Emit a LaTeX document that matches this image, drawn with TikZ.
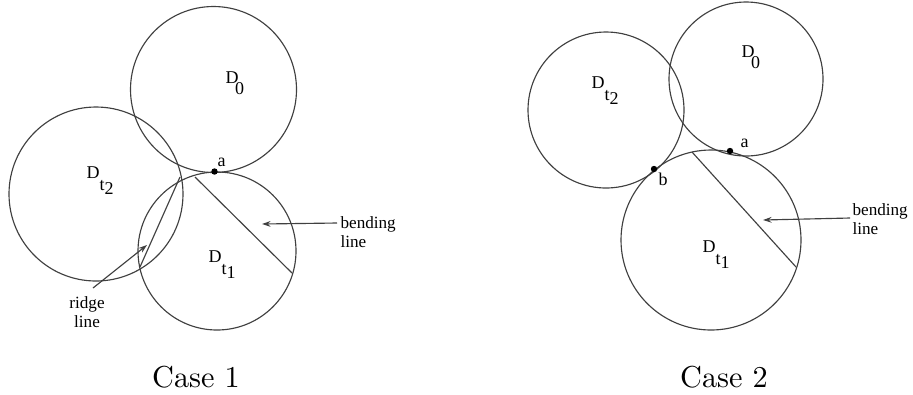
\documentclass[tikz,border=0pt]{standalone}
\usepackage{fontspec}
\newfontfamily\tms{Liberation Serif}
\usetikzlibrary{arrows.meta}
\newcommand{\Dt}[1]{D\raisebox{-4.5pt}{t\raisebox{-1.2pt}{#1}}}
\newcommand{\Dz}{D\kern-1.2pt\raisebox{-3.9pt}{0}}

\begin{document}
\begin{tikzpicture}[x=0.35pt, y=-0.35pt, line width=0.4pt,
    disc/.style = {draw=black!75},
    lbl/.style = {font=\tms\fontsize{6.3}{7}\selectfont, inner sep=0pt, anchor=base west},
    note/.style = {font=\tms\fontsize{6}{6.7}\selectfont, inner sep=0pt, anchor=north west, align=left},
    case/.style = {font=\fontsize{10.6}{12}\selectfont, inner sep=0pt, anchor=base},
    pin/.style = {draw=black!75, -{Stealth[length=3pt, width=2pt]}}]
    \useasboundingbox (0,0) rectangle (913,394);

    % Case 1
    \coordinate (o0) at (213.5,89.5);
    \coordinate (o2) at (96,194);
    \coordinate (o1) at (217,251);
    \draw[disc] (o0) circle[radius=83];
    \draw[disc] (o2) circle[radius=87];
    \draw[disc] (o1) circle[radius=79];

    \coordinate (a1) at (214.5,171.5);
    \fill (a1) circle[radius=3.2];
    \node[lbl] (la1) at (217,166) {a};

    \coordinate (bs1) at (195,177);
    \coordinate (be1) at (292,273);
    \draw[disc] (bs1) -- (be1);
    \coordinate (rs1) at (180,177);
    \coordinate (re1) at (140,267);
    \draw[disc] (rs1) -- (re1);

    \node[lbl] (d0) at (225,83) {\Dz};
    \node[lbl] (d2) at (86,178) {\Dt{2}};
    \node[lbl] (d1) at (208,262) {\Dt{1}};

    \node[note] (bend1) at (340,216) {bending\\line};
    \node[note, anchor=north, align=center] (ridge1) at (87,296) {ridge\\line};
    \coordinate (bt1) at (337,223);
    \coordinate (bh1) at (262,224);
    \draw[pin] (bt1) -- (bh1);
    \coordinate (rt1) at (93,288);
    \coordinate (rh1) at (147,245);
    \draw[pin] (rt1) -- (rh1);

    \node[case] (c1) at (196,387) {Case 1};

    % Case 2
    \coordinate (p0) at (746,79);
    \coordinate (p2) at (606,110);
    \coordinate (p1) at (711,240);
    \draw[disc] (p0) circle[radius=77];
    \draw[disc] (p2) circle[radius=78];
    \draw[disc] (p1) circle[radius=90];

    \coordinate (a2) at (730,151);
    \fill (a2) circle[radius=3.2];
    \node[lbl] (la2) at (740,147) {a};
    \coordinate (b2) at (654,169);
    \fill (b2) circle[radius=3.2];
    \node[lbl] (lb2) at (658,185) {b};

    \coordinate (bs2) at (692,152);
    \coordinate (be2) at (796,267);
    \draw[disc] (bs2) -- (be2);

    \node[lbl] (e0) at (741,57) {\Dz};
    \node[lbl] (e2) at (591,88) {\Dt{2}};
    \node[lbl] (e1) at (702,252) {\Dt{1}};

    \node[note] (bend2) at (852,203) {bending\\line};
    \coordinate (bt2) at (850,218);
    \coordinate (bh2) at (763,220);
    \draw[pin] (bt2) -- (bh2);

    \node[case] (c2) at (724,387) {Case 2};
\end{tikzpicture}
\end{document}
